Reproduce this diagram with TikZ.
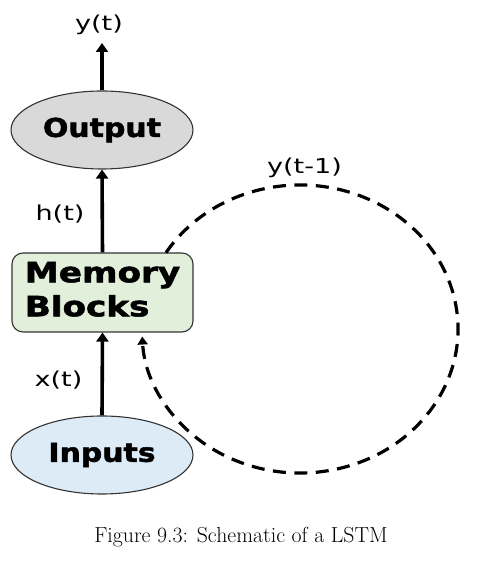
\documentclass[tikz,border=0pt]{standalone}
\usepackage{fontspec}
\newfontfamily\lblfont{DejaVu Sans}
\newfontfamily\heavyfont[BoldFeatures={FakeBold=1.8}]{DejaVu Sans}
\usetikzlibrary{shapes.geometric,arrows.meta}
\definecolor{outfill}{HTML}{D9D9D9}
\definecolor{memfill}{HTML}{E2EFDA}
\definecolor{infill}{HTML}{DDEBF7}
\definecolor{edgegray}{HTML}{333333}
\tikzset{
  ovalnode/.style={ellipse, draw=edgegray, line width=1.1pt, minimum width=182pt, minimum height=78pt, inner sep=0pt},
  membox/.style={rectangle, rounded corners=11pt, draw=edgegray, line width=1.1pt, fill=memfill, minimum width=181pt, minimum height=79pt, inner sep=0pt},
  bigtext/.style={font=\heavyfont\bfseries\fontsize{26}{30}\selectfont, text=black},
  lbl/.style={font=\lblfont\fontsize{20.5}{24}\selectfont, text=black, inner sep=0pt},
  arr/.style={line width=3.6pt, -{Triangle[width=12pt,length=9pt]}},
  looparr/.style={line width=3.2pt, dash pattern=on 13pt off 8.5pt, -{Triangle[width=10pt,length=8pt]}},
}
\begin{document}
\begin{tikzpicture}[x=1pt,y=1pt]
\useasboundingbox (0,0) rectangle (478,561);
\node[ovalnode, fill=outfill, bigtext] (out) at (102,431) {\scalebox{1.15}[1]{Output}};
\node[membox, bigtext, align=left] (mem) at (102.5,268.5) {\scalebox{1.22}[1]{\fontsize{28}{34}\selectfont\begin{tabular}{@{}l@{}}Memory\\[0pt]Blocks\end{tabular}}};
\node[ovalnode, fill=infill, bigtext] (in) at (102,106) {\scalebox{1.15}[1]{Inputs}};
\node[lbl] (yt) at (99,536) {\scalebox{1.32}[1]{y(t)}};
\node[lbl] (ht) at (60,347) {\scalebox{1.32}[1]{h(t)}};
\node[lbl] (xt) at (58.5,181) {\scalebox{1.32}[1]{x(t)}};
\node[lbl] (ytm) at (304.5,393) {\scalebox{1.32}[1]{y(t-1)}};
\node[font=\fontsize{21.8}{24}\selectfont, inner sep=0pt] (cap) at (241,24) {Figure 9.3: Schematic of a LSTM};
\draw[arr] (out.north) -- (out.north |- 0,518);
\draw[arr] (mem.north) -- (out.south);
\draw[arr] (in.north) -- (mem.south);
\coordinate (c) at (300,232);
\draw[looparr] (c) ++(148:158pt and 144pt) arc[start angle=148, end angle=-177, x radius=158pt, y radius=144pt];
\end{tikzpicture}
\end{document}
